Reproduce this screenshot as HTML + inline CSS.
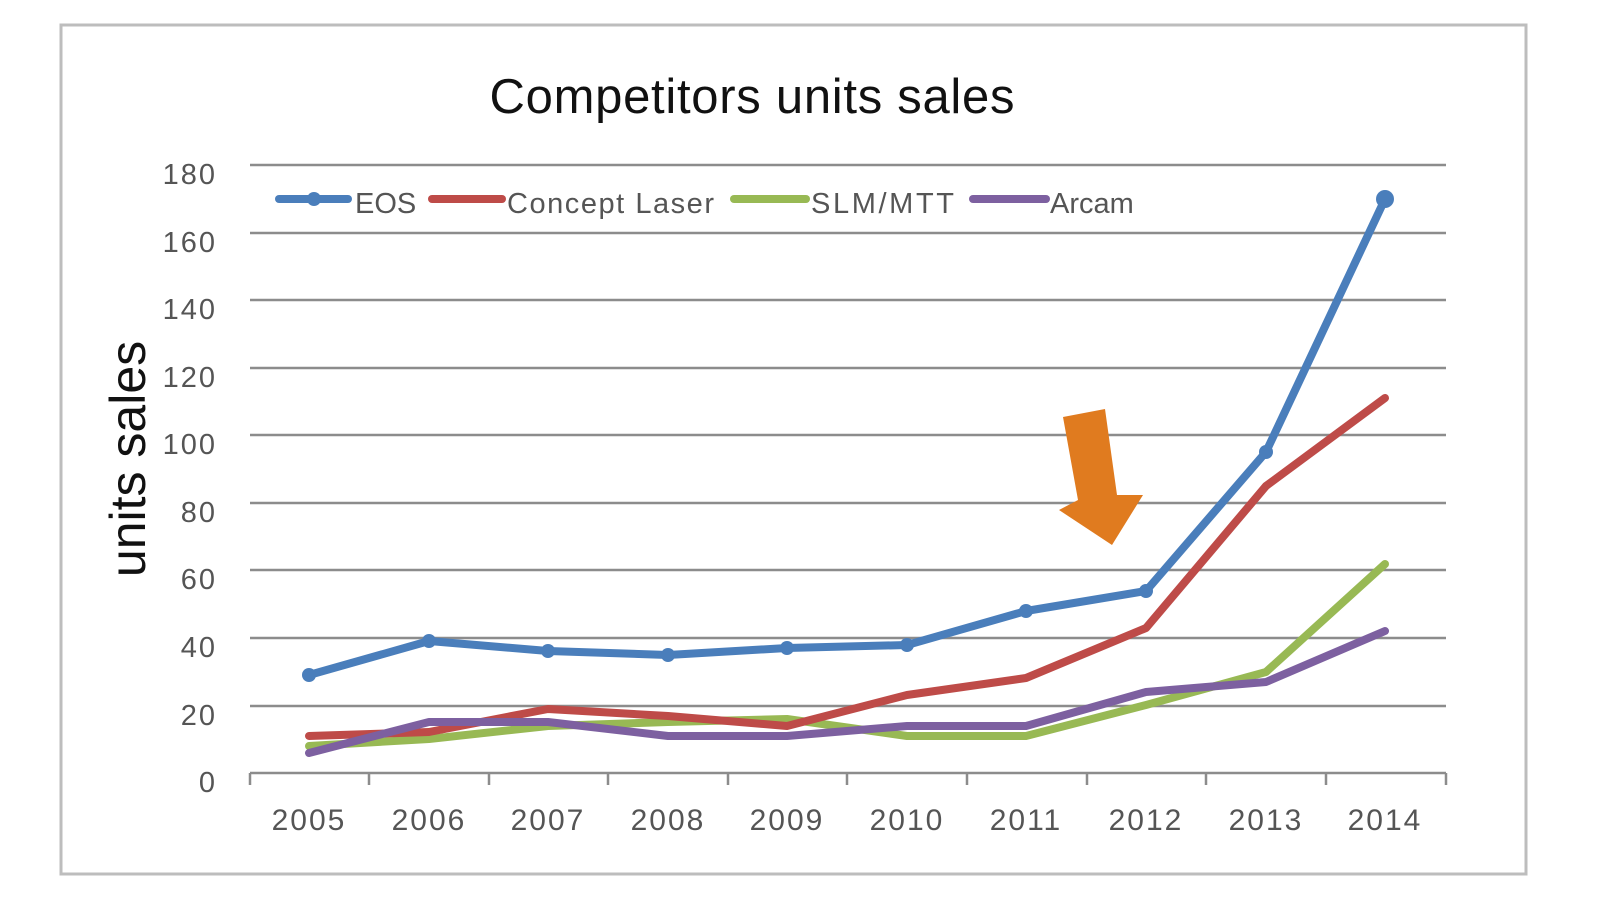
<!DOCTYPE html>
<html><head><meta charset="utf-8"><style>
html,body{margin:0;padding:0;background:#fff;width:1600px;height:900px;overflow:hidden}
svg text{font-family:"Liberation Sans",sans-serif}
</style></head><body>
<svg width="1600" height="900" xmlns="http://www.w3.org/2000/svg">
<rect x="61" y="25" width="1465" height="849" fill="#fff" stroke="#bdbdbd" stroke-width="3"/>
<text x="752" y="113" font-size="49" text-anchor="middle" fill="#111" textLength="525">Competitors units sales</text>
<g stroke="#8c8c8c" stroke-width="2.5">
<line x1="250" y1="165" x2="1446" y2="165"/>
<line x1="250" y1="233" x2="1446" y2="233"/>
<line x1="250" y1="300" x2="1446" y2="300"/>
<line x1="250" y1="368" x2="1446" y2="368"/>
<line x1="250" y1="435" x2="1446" y2="435"/>
<line x1="250" y1="503" x2="1446" y2="503"/>
<line x1="250" y1="570" x2="1446" y2="570"/>
<line x1="250" y1="638" x2="1446" y2="638"/>
<line x1="250" y1="706" x2="1446" y2="706"/>
<line x1="250" y1="773" x2="1446" y2="773"/>
<line x1="250" y1="773" x2="250" y2="785"/>
<line x1="369" y1="773" x2="369" y2="785"/>
<line x1="489" y1="773" x2="489" y2="785"/>
<line x1="608" y1="773" x2="608" y2="785"/>
<line x1="728" y1="773" x2="728" y2="785"/>
<line x1="847" y1="773" x2="847" y2="785"/>
<line x1="967" y1="773" x2="967" y2="785"/>
<line x1="1087" y1="773" x2="1087" y2="785"/>
<line x1="1206" y1="773" x2="1206" y2="785"/>
<line x1="1326" y1="773" x2="1326" y2="785"/>
<line x1="1446" y1="773" x2="1446" y2="785"/>
</g>
<g font-size="29" fill="#555" text-anchor="end" letter-spacing="2">
<text x="217" y="184">180</text><text x="217" y="252">160</text><text x="217" y="319">140</text>
<text x="217" y="387">120</text><text x="217" y="454">100</text><text x="217" y="522">80</text>
<text x="217" y="589">60</text><text x="217" y="657">40</text><text x="217" y="725">20</text>
<text x="217" y="792">0</text>
</g>
<g font-size="30" fill="#555" text-anchor="middle" letter-spacing="2">
<text x="309" y="830">2005</text><text x="429" y="830">2006</text><text x="548" y="830">2007</text>
<text x="668" y="830">2008</text><text x="787" y="830">2009</text><text x="907" y="830">2010</text>
<text x="1026" y="830">2011</text><text x="1146" y="830">2012</text><text x="1266" y="830">2013</text>
<text x="1385" y="830">2014</text>
</g>
<text transform="translate(145,459) rotate(-90)" font-size="50" text-anchor="middle" fill="#111">units sales</text>
<polygon points="1063,417 1105,409 1117,495 1143,495 1112,545 1059,510 1078,500" fill="#E07B1F"/>
<g fill="none" stroke-width="8" stroke-linejoin="round" stroke-linecap="round">
<polyline stroke="#98B954" points="309,746 429,739 548,726 668,722 787,719 907,736 1026,736 1146,705 1266,672 1385,564"/>
<polyline stroke="#BE4B48" points="309,736 429,732 548,709 668,716 787,726 907,695 1026,678 1146,628 1266,486 1385,398"/>
<polyline stroke="#7D60A0" points="309,753 429,722 548,722 668,736 787,736 907,726 1026,726 1146,692 1266,682 1385,631"/>
<polyline stroke="#4A7EBB" points="309,675 429,641 548,651 668,655 787,648 907,645 1026,611 1146,591 1266,452 1385,199"/>
</g>
<g fill="#4A7EBB"><circle cx="309" cy="675" r="7"/><circle cx="429" cy="641" r="7"/><circle cx="548" cy="651" r="7"/><circle cx="668" cy="655" r="7"/><circle cx="787" cy="648" r="7"/><circle cx="907" cy="645" r="7"/><circle cx="1026" cy="611" r="7"/><circle cx="1146" cy="591" r="7"/><circle cx="1266" cy="452" r="7"/><circle cx="1385" cy="199" r="9"/></g>
<g stroke-width="8" stroke-linecap="round">
<line x1="279" y1="199" x2="348" y2="199" stroke="#4A7EBB"/>
<line x1="432" y1="199" x2="502" y2="199" stroke="#BE4B48"/>
<line x1="734" y1="199" x2="806" y2="199" stroke="#98B954"/>
<line x1="973" y1="199" x2="1046" y2="199" stroke="#7D60A0"/>
</g>
<circle cx="314" cy="199" r="7" fill="#4A7EBB"/>
<g font-size="29" fill="#555">
<text x="355" y="213">EOS</text><text x="507" y="213" textLength="207">Concept Laser</text>
<text x="811" y="213" textLength="143">SLM/MTT</text><text x="1050" y="213">Arcam</text>
</g>
</svg>
</body></html>
